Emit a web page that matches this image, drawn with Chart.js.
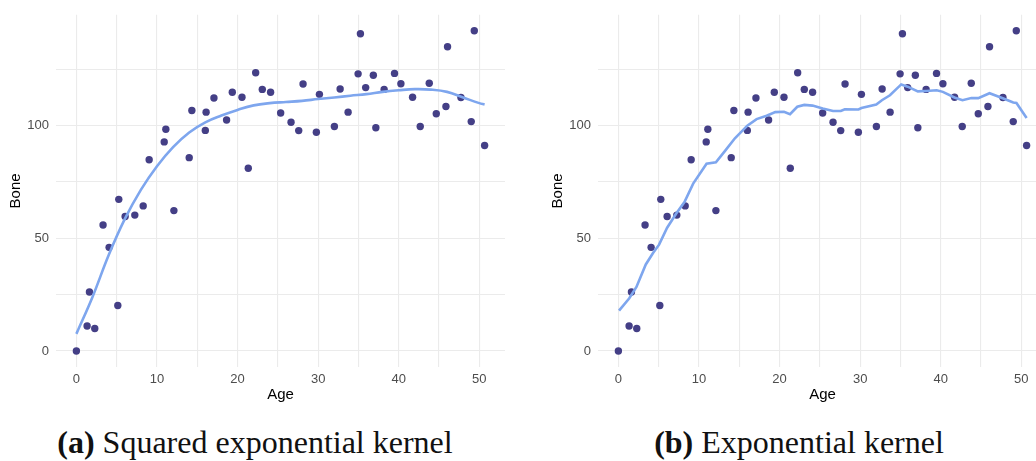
<!DOCTYPE html>
<html>
<head>
<meta charset="utf-8">
<script src="https://cdn.jsdelivr.net/npm/chart.js@4/dist/chart.umd.min.js"></script>
<style>
  html, body { margin:0; padding:0; background:#fff; width:1036px; height:461px; overflow:hidden; }
  .panel { position:absolute; top:0; width:510px; height:410px; }
  .cap { position:absolute; top:426px; width:510px; text-align:center; line-height:32px;
         font-family:"Liberation Serif", serif; font-size:32px; color:#111; white-space:nowrap; }
</style>
</head>
<body>
<div class="panel" style="left:0"><canvas id="seChart" width="510" height="410"></canvas></div>
<div class="panel" style="left:542px"><canvas id="expChart" width="510" height="410"></canvas></div>
<div class="cap" id="capA" style="left:0"><b>(a)</b> Squared exponential kernel</div>
<div class="cap" id="capB" style="left:544px"><b>(b)</b> Exponential kernel</div>

<script>
const ages = [0, 1.33, 1.62, 2.28, 3.31, 4.06, 5.14, 5.26, 6.05, 7.25, 8.29, 9.03,
  10.9, 11.1, 12.1, 14.0, 14.33, 16.0, 16.1, 17.07, 18.64, 19.35, 20.55, 21.33,
  22.25, 23.07, 24.1, 25.35, 26.64, 27.59, 28.13, 29.78, 30.16, 32.02, 32.73,
  33.72, 34.96, 35.25, 35.9, 36.85, 37.16, 38.19, 39.48, 40.27, 41.72, 42.67,
  43.79, 44.66, 45.86, 46.06, 47.72, 49.0, 49.38, 50.66];
const bone = [0, 11.1, 26.2, 10.0, 55.9, 46.0, 20.2, 67.3, 59.7, 60.3, 64.4, 84.9,
  92.8, 98.4, 62.3, 85.8, 106.7, 97.9, 106.0, 112.3, 102.5, 114.8, 112.6, 81.1,
  123.5, 116.1, 114.8, 105.6, 101.5, 97.8, 118.5, 97.1, 113.9, 99.6, 116.3,
  106.0, 123.0, 140.8, 116.9, 122.4, 99.1, 116.1, 123.2, 118.6, 112.6, 99.6,
  118.8, 105.3, 108.5, 135.0, 112.5, 101.8, 142.1, 91.2];

/* --- courbe (a) noyau exponentiel carré --- */
const seFitX = [0, 2, 4, 6, 8, 10, 12, 14, 16, 18, 20, 22, 24, 26, 28, 30, 32, 34,
  36, 38, 40, 42, 44, 46, 48, 50, 50.66];
const seFit = [7.6, 24, 42.5, 58.5, 71.5, 82, 90.5, 97, 101.5, 104.5, 107, 109, 110,
  110.5, 111, 111.8, 112.5, 113.3, 114, 115, 115.7, 116.2, 116, 115, 112.5, 110, 109.4];

/* --- courbe (b) noyau exponentiel --- */
const expFitX = [0.08, 1.33, 2.24, 3.4, 4.3, 5.05, 6.05, 7.2, 8.2, 9.28, 10.94, 12.1,
  13.26, 14.46, 16.0, 17.15, 18.4, 19.47, 20.55, 21.3, 22.2, 23.07, 24.1, 25.35,
  26.64, 27.6, 28.1, 29.8, 30.16, 32.0, 32.7, 33.7, 35.1, 35.9, 37.16, 38.2, 39.5,
  40.27, 41.7, 42.7, 43.8, 44.66, 46.06, 47.7, 49.0, 49.4, 50.66];
const expFit = [17.9, 23.3, 28.4, 38.4, 43.5, 47.2, 54.7, 61.1, 66.1, 74.3, 83.1, 83.7,
  88.9, 94.4, 100, 102.9, 104.4, 106, 106.2, 105.1, 108.4, 109.2, 108.9, 107.6,
  106.5, 106.5, 107.3, 107.2, 107.8, 109.4, 111.3, 113.5, 118.3, 117.3, 115.2,
  115.4, 115.7, 115.0, 112.5, 111.3, 112.3, 112.2, 114.4, 112.2, 110.3, 110.1, 103.4];

const xTicks = [0, 5, 10, 15, 20, 25, 30, 35, 40, 45, 50];
const yTicks = [0, 25, 50, 75, 100, 125];

const pts = (xs, ys) => xs.map((x, i) => ({x, y: ys[i]}));

function mkChart(id, fitX, fit, tension) {
  return new Chart(document.getElementById(id), {
    type: 'scatter',
    data: {
      datasets: [
        { data: pts(fitX, fit), showLine: true, borderColor: '#7ea6ee', borderWidth: 2.6,
          pointRadius: 0, tension, fill: false },
        { data: pts(ages, bone), backgroundColor: '#443f86', borderWidth: 0, pointRadius: 3.7 }
      ]
    },
    options: {
      responsive: false, animation: false, events: [],
      layout: { padding: { top: 12, right: 5, left: 0, bottom: 0 } },
      plugins: { legend: { display: false }, tooltip: { enabled: false } },
      scales: {
        x: {
          type: 'linear', min: -2.53, max: 53.19,
          afterBuildTicks: s => { s.ticks = xTicks.map(v => ({value: v})); },
          afterFit: s => { s.height = 43; },
          border: { display: false },
          grid: { color: '#ebebeb', lineWidth: 1.1, drawTicks: false },
          ticks: { padding: 5, color: '#4d4d4d', font: { family: 'Liberation Sans', size: 13 },
                   maxRotation: 0, callback: v => v % 10 === 0 ? v : '' },
          title: { display: true, text: 'Age', color: '#000',
                   font: { family: 'Liberation Sans', size: 15 }, padding: { top: 0, bottom: 6 } }
        },
        y: {
          min: -7.1, max: 149.2,
          afterBuildTicks: s => { s.ticks = yTicks.map(v => ({value: v})); },
          afterFit: s => { s.width = 56; },
          border: { display: false },
          grid: { color: '#ebebeb', lineWidth: 1.1, drawTicks: false },
          ticks: { padding: 7, color: '#4d4d4d', font: { family: 'Liberation Sans', size: 13 },
                   callback: v => v % 50 === 0 ? v : '' },
          title: { display: true, text: 'Bone', color: '#000',
                   font: { family: 'Liberation Sans', size: 15 }, padding: { top: 7, bottom: 0 } }
        }
      }
    }
  });
}

mkChart('seChart', seFitX, seFit, 0.4);
mkChart('expChart', expFitX, expFit, 0);
</script>
</body>
</html>
